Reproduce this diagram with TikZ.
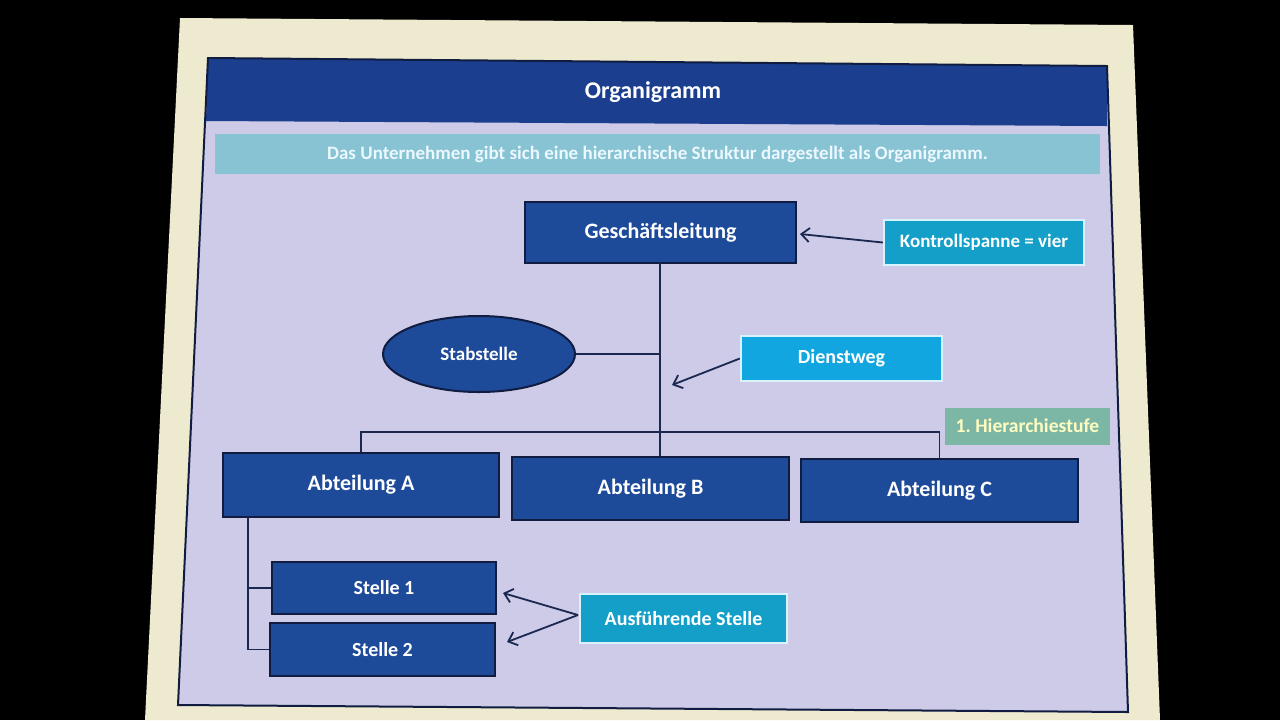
\documentclass[tikz,border=0pt]{standalone}
\usepackage{fontspec}
\setmainfont{Carlito}
\frenchspacing
\usetikzlibrary{arrows.meta,shapes.geometric}
\definecolor{slidecream}{HTML}{EEEAD0}
\definecolor{lavender}{HTML}{CDCBE8}
\definecolor{headblue}{HTML}{1B3F8E}
\definecolor{nodeblue}{HTML}{1E4A9A}
\definecolor{nodeedge}{HTML}{101C40}
\definecolor{teal}{HTML}{139FC8}
\definecolor{skyblue}{HTML}{12A6E0}
\definecolor{subband}{HTML}{88C3D4}
\definecolor{hiergreen}{HTML}{7CB7A6}
\definecolor{linecol}{HTML}{1A2850}
\tikzset{
  darkbox/.style={draw=nodeedge, line width=1pt, fill=nodeblue, text=white,
    font=\bfseries\fontsize{11}{13}\selectfont, inner sep=0pt},
  smallbox/.style={darkbox, font=\bfseries\fontsize{10}{12}\selectfont},
  infobox/.style={draw=white!85!cyan, line width=1.2pt, fill=teal, text=white,
    font=\bfseries\fontsize{9.5}{11}\selectfont, inner sep=0pt},
  conn/.style={draw=linecol, line width=0.9pt},
  arr/.style={conn, -{Straight Barb[length=4pt,width=7pt]}},
}
\begin{document}
\begin{tikzpicture}[x=0.5pt,y=-0.5pt]
\useasboundingbox (0,0) rectangle (1280,720);
\fill[black] (0,0) rectangle (1280,720);
% slide
\fill[slidecream] (180,18) -- (1133,25) -- (1160,720) -- (145,720) -- cycle;
% content frame
\fill[lavender] (208,58) -- (1107,66) -- (1128,712) -- (178,705) -- cycle;
\fill[headblue] (208,58) -- (1107,66) -- (1107,126) -- (206,121) -- cycle;
\draw[nodeedge, line width=1pt] (208,58) -- (1107,66) -- (1128,712) -- (178,705) -- cycle;
\node[text=white, font=\bfseries\fontsize{12}{14}\selectfont] (title) at (653,92) {Organigramm};
% subtitle band
\node[fill=subband, minimum width=442.5pt, minimum height=20pt, inner sep=0pt,
  text=white!92!cyan, font=\bfseries\fontsize{9.5}{11}\selectfont] (sub) at (657.5,154)
  {Das Unternehmen gibt sich eine hierarchische Struktur dargestellt als Organigramm.};
% top level
\node[darkbox, minimum width=135.5pt, minimum height=30.5pt] (gl) at (660.5,232.5) {Geschäftsleitung};
\node[infobox, minimum width=100pt, minimum height=22.5pt] (ks) at (984,242.5) {Kontrollspanne = vier};
\node[darkbox, ellipse, minimum width=96pt, minimum height=38pt,
  font=\bfseries\fontsize{9.5}{11}\selectfont] (stab) at (479,354) {Stabstelle};
\node[infobox, fill=skyblue, minimum width=100.5pt, minimum height=22.5pt,
  font=\bfseries\fontsize{10}{12}\selectfont] (dw) at (841.5,358.5) {Dienstweg};
\node[fill=hiergreen, minimum width=82.5pt, minimum height=18.5pt, inner sep=0pt,
  text=yellow!25!white, font=\bfseries\fontsize{9.8}{11}\selectfont] (hs) at (1027.5,426) {1. Hierarchiestufe};
% departments
\node[darkbox, minimum width=138pt, minimum height=32pt] (a) at (361,485) {Abteilung A};
\node[darkbox, minimum width=138.5pt, minimum height=31.5pt] (b) at (650.5,488.5) {Abteilung B};
\node[darkbox, minimum width=138.5pt, minimum height=31.5pt] (c) at (939.5,490.5) {Abteilung C};
% positions
\node[smallbox, minimum width=112pt, minimum height=26pt] (s1) at (384,588) {Stelle 1};
\node[smallbox, minimum width=112.5pt, minimum height=26.5pt] (s2) at (382.5,649.5) {Stelle 2};
\node[infobox, minimum width=103.5pt, minimum height=24.5pt,
  font=\bfseries\fontsize{10}{12}\selectfont] (as) at (683.5,618.5) {Ausführende Stelle};
% coordinates
\coordinate (j) at (660,432);
\coordinate (glj) at (660,263);
\coordinate (av) at (248,517);
\coordinate (kstip) at (800,234);
\coordinate (dwtip) at (672,385);
\coordinate (s1tip) at (503,593);
\coordinate (s2tip) at (507,642);
\coordinate (asout) at (578,615);
% connectors
\draw[conn] (glj) -- (j);
\draw[conn] (stab.east) -- (stab.east -| glj);
\draw[conn] (a.north) |- (j) -| (c.north);
\draw[conn] (j) -- (j |- b.north);
\draw[conn] (av) |- (s2.west);
\draw[conn] (av |- s1.west) -- (s1.west);
\draw[arr] (ks.west) -- (kstip);
\draw[arr] (dw.west) -- (dwtip);
\draw[arr] (asout) -- (s1tip);
\draw[arr] (asout) -- (s2tip);
\end{tikzpicture}
\end{document}
